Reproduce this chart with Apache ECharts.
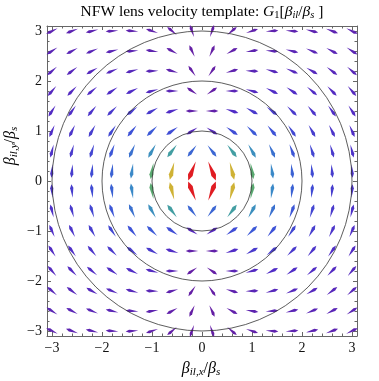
<!DOCTYPE html>
<html>
<head>
<meta charset="utf-8">
<title>NFW lens velocity template</title>
<style>html,body{margin:0;padding:0;background:#fff;}</style>
</head>
<body>
<div id="main" style="width:379px;height:381px;"></div>
<script src="https://cdn.jsdelivr.net/npm/echarts@6/dist/echarts.min.js"></script>
<script>
// arrow positions in one quadrant, the other three quadrants are mirror images
var qPos = [0.2, 0.6, 1.0, 1.4, 1.8, 2.2, 2.6, 3.0];
// rows: y = 0.2 .. 3.0, cols: x = 0.2 .. 3.0
var qVx = [
    [0.887, 0.420, 0.213, 0.126, 0.081, 0.056, 0.041, 0.031],
    [0.420, 0.613, 0.450, 0.308, 0.214, 0.154, 0.115, 0.088],
    [0.213, 0.450, 0.449, 0.365, 0.282, 0.217, 0.168, 0.132],
    [0.126, 0.308, 0.365, 0.344, 0.294, 0.242, 0.197, 0.161],
    [0.081, 0.214, 0.282, 0.294, 0.274, 0.241, 0.206, 0.175],
    [0.056, 0.154, 0.217, 0.242, 0.241, 0.224, 0.200, 0.176],
    [0.041, 0.115, 0.168, 0.197, 0.206, 0.200, 0.188, 0.170],
    [0.031, 0.088, 0.132, 0.161, 0.175, 0.176, 0.170, 0.159]
];
var qVy = [
    [-2.213, -1.666, -1.162, -0.860, -0.666, -0.535, -0.441, -0.371],
    [-0.546, -0.806, -0.792, -0.681, -0.570, -0.478, -0.405, -0.347],
    [-0.138, -0.312, -0.429, -0.453, -0.428, -0.388, -0.345, -0.306],
    [ 0.001, -0.094, -0.203, -0.268, -0.292, -0.290, -0.275, -0.255],
    [ 0.057,  0.001, -0.077, -0.142, -0.183, -0.203, -0.207, -0.203],
    [ 0.080,  0.044, -0.009, -0.063, -0.105, -0.133, -0.148, -0.155],
    [ 0.088,  0.065,  0.027, -0.015, -0.052, -0.081, -0.101, -0.114],
    [ 0.089,  0.074,  0.046,  0.014, -0.017, -0.044, -0.065, -0.080]
];
var circleRadii = [1, 2, 3];
var majorTicks = [-3, -2, -1, 0, 1, 2, 3];
var minorTicks = [-2.8, -2.6, -2.4, -2.2, -1.8, -1.6, -1.4, -1.2, -0.8, -0.6, -0.4, -0.2,
                  0.2, 0.4, 0.6, 0.8, 1.2, 1.4, 1.6, 1.8, 2.2, 2.4, 2.6, 2.8];

var arrows = [];
for (var j = 0; j < qPos.length; j++) {
    for (var i = 0; i < qPos.length; i++) {
        [-1, 1].forEach(function (sx) {
            [-1, 1].forEach(function (sy) {
                arrows.push([sx * qPos[i], sy * qPos[j], sx * qVx[j][i], sy * qVy[j][i]]);
            });
        });
    }
}
var mags = arrows.map(function (a) { return Math.sqrt(a[2] * a[2] + a[3] * a[3]); });
var mMin = Math.min.apply(null, mags), mMax = Math.max.apply(null, mags);

// rainbow colour scale
var stops = [
    [0.00, [100, 30, 164]],
    [0.10, [80, 44, 198]],
    [0.22, [60, 84, 216]],
    [0.34, [58, 138, 200]],
    [0.42, [70, 164, 150]],
    [0.50, [98, 172, 94]],
    [0.62, [168, 178, 62]],
    [0.72, [212, 178, 52]],
    [0.86, [230, 108, 42]],
    [1.00, [224, 28, 34]]
];
function rainbow(t) {
    for (var k = 1; k < stops.length; k++) {
        if (t <= stops[k][0]) {
            var a = stops[k - 1], b = stops[k];
            var f = (t - a[0]) / (b[0] - a[0]);
            var c = a[1].map(function (v, n) { return Math.round(v + (b[1][n] - v) * f); });
            return 'rgb(' + c.join(',') + ')';
        }
    }
    return 'rgb(' + stops[stops.length - 1][1].join(',') + ')';
}

function renderArrow(params, api) {
    var vx = api.value(2), vy = api.value(3);
    var c = api.coord([api.value(0), api.value(1)]);
    var m = Math.sqrt(vx * vx + vy * vy);
    var t = (m - mMin) / (mMax - mMin);
    var len = 12.5 + 8 * t, w = 3 + 2 * t;
    var ux = vx / m, uy = -vy / m;
    var px = -uy, py = ux;
    var sx = c[0] + ux * len * 0.22, sy = c[1] + uy * len * 0.22;
    var pts = [
        [c[0] - ux * len / 2, c[1] - uy * len / 2],
        [sx + px * w / 2, sy + py * w / 2],
        [c[0] + ux * len / 2, c[1] + uy * len / 2],
        [sx - px * w / 2, sy - py * w / 2]
    ];
    return { type: 'polygon', shape: { points: pts }, style: { fill: rainbow(t) } };
}

function renderCircle(params, api) {
    var c = api.coord([0, 0]);
    var r = api.size([api.value(0), 0])[0];
    return {
        type: 'circle',
        shape: { cx: c[0], cy: c[1], r: r },
        style: { fill: 'none', stroke: '#333', lineWidth: 0.8 }
    };
}

var serif = '"Liberation Serif", "DejaVu Serif", serif';
var frameColor = '#666';
function minus(v) { return String(v).replace('-', '\u2212'); }

function makeAxis(pos, ticks, len, labels, line) {
    return {
        type: 'value', position: pos, min: -3.1, max: 3.1,
        axisLine: { show: line, onZero: false, lineStyle: { color: frameColor, width: 1 } },
        axisTick: { show: true, inside: true, length: len, customValues: ticks,
                    lineStyle: { color: frameColor, width: 1 } },
        axisLabel: { show: labels, customValues: majorTicks, formatter: minus, margin: 5,
                     fontFamily: serif, fontSize: 14, color: '#111' },
        splitLine: { show: false }
    };
}

function richSet(big, small) {
    return {
        n: { fontFamily: serif, fontSize: big, color: '#111', lineHeight: big + 2 },
        i: { fontFamily: serif, fontSize: big, fontStyle: 'italic', color: '#111', lineHeight: big + 2 },
        s: { fontFamily: serif, fontSize: small, color: '#111', lineHeight: small - 1, verticalAlign: 'bottom' },
        si: { fontFamily: serif, fontSize: small, fontStyle: 'italic', color: '#111', lineHeight: small - 1, verticalAlign: 'bottom' }
    };
}

var myChart = echarts.init(document.getElementById('main'));
var option = {
    animation: false,
    grid: { left: 47, right: 22, top: 26, bottom: 45 },
    xAxis: [
        makeAxis('bottom', majorTicks, 4, true, true),
        makeAxis('bottom', minorTicks, 2.5, false, false),
        makeAxis('top', majorTicks, 4, false, true),
        makeAxis('top', minorTicks, 2.5, false, false)
    ],
    yAxis: [
        makeAxis('left', majorTicks, 4, true, true),
        makeAxis('left', minorTicks, 2.5, false, false),
        makeAxis('right', majorTicks, 4, false, true),
        makeAxis('right', minorTicks, 2.5, false, false)
    ],
    graphic: [
        { type: 'text', x: 202, y: 12,
          style: { text: '{n|NFW lens velocity template: }{i|G}{s|1}{n|[}{i|β}{si|il}{n|/}{i|β}{si|s}{n| ]}',
                   rich: richSet(15.5, 10.5), align: 'center', verticalAlign: 'middle' } },
        { type: 'text', x: 201, y: 369,
          style: { text: '{i|β}{si|il,x}{n|/}{i|β}{si|s}', rich: richSet(16, 11), align: 'center', verticalAlign: 'middle' } },
        { type: 'text', x: 11, y: 146, rotation: Math.PI / 2,
          style: { text: '{i|β}{si|il,y}{n|/}{i|β}{si|s}', rich: richSet(16, 11), align: 'center', verticalAlign: 'middle' } }
    ],
    series: [
        { type: 'custom', xAxisIndex: 0, yAxisIndex: 0, renderItem: renderCircle,
          data: circleRadii.map(function (r) { return [r]; }), silent: true, z: 3 },
        { type: 'custom', xAxisIndex: 0, yAxisIndex: 0, renderItem: renderArrow,
          data: arrows, silent: true, z: 2 }
    ]
};
myChart.setOption(option);
</script>
</body>
</html>
